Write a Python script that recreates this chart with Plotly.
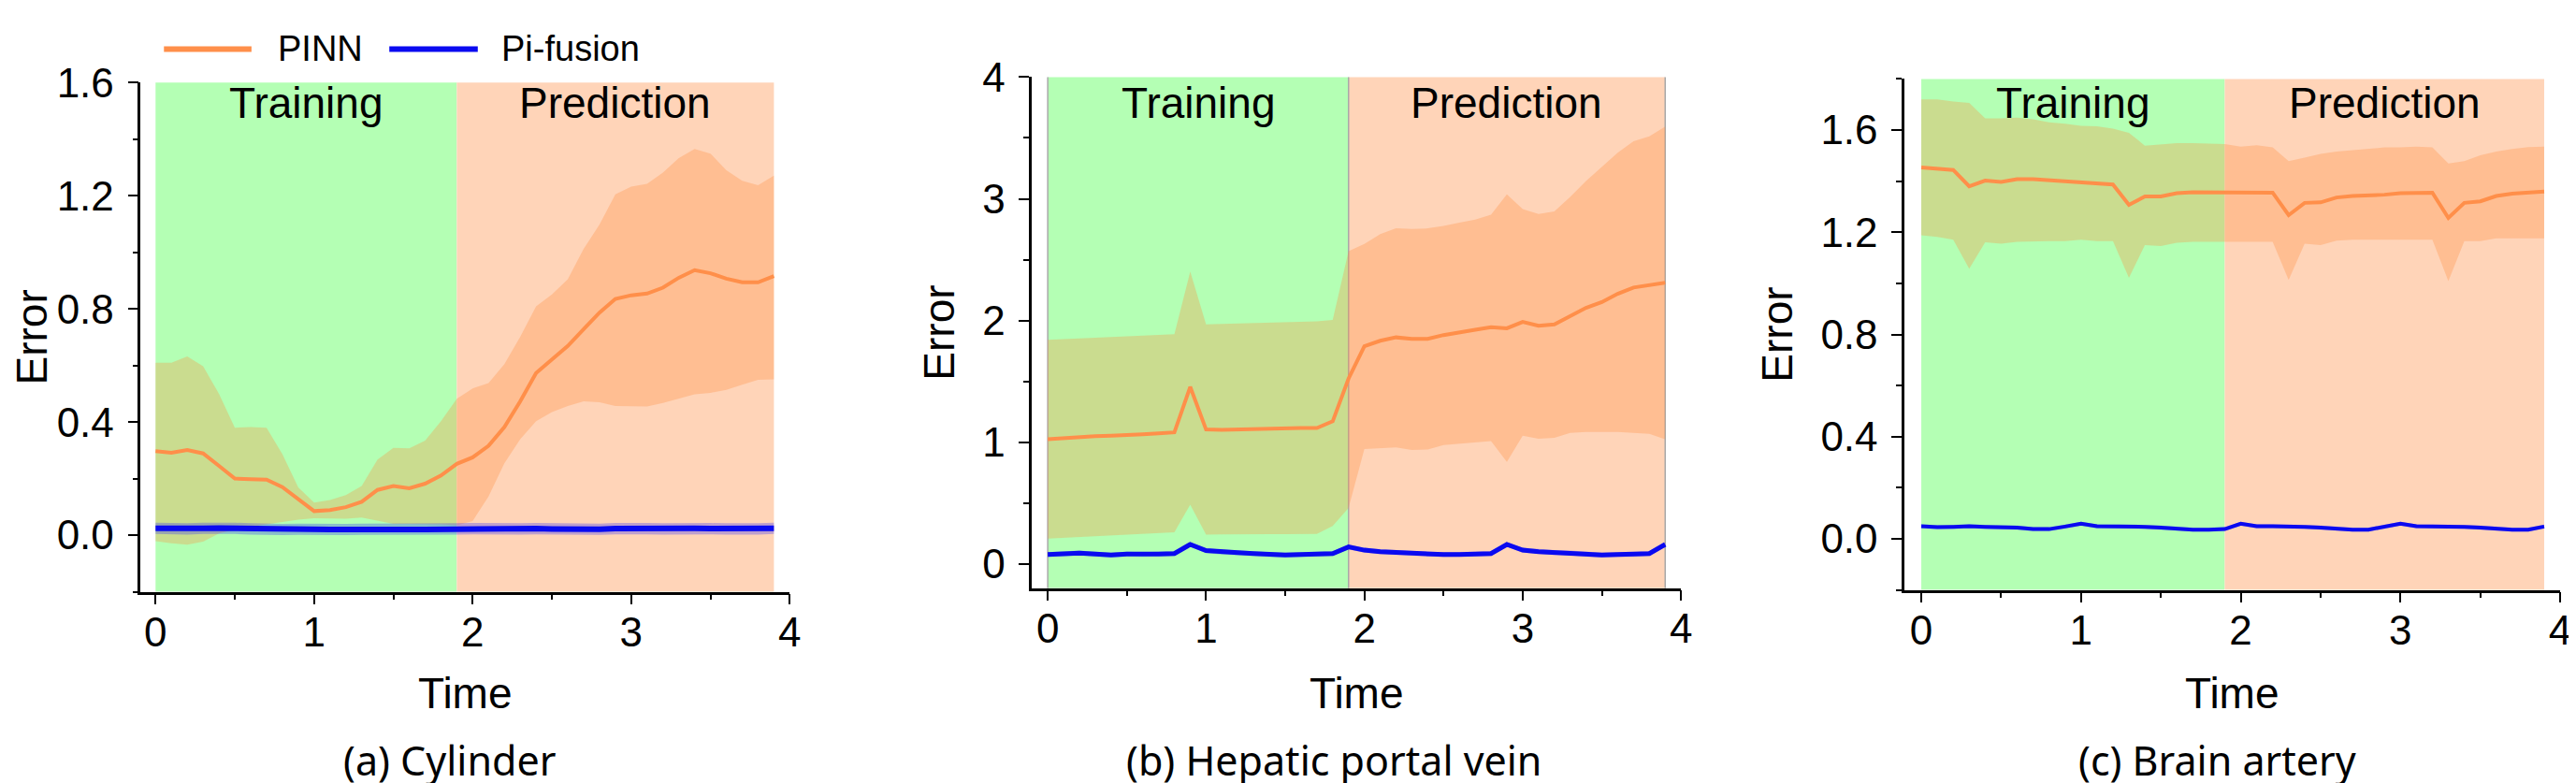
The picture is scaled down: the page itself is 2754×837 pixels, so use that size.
import plotly.graph_objects as go

# Time axis (every 0.1 up to 3.9)
TIME = [0.0, 0.1, 0.2, 0.3, 0.4, 0.5, 0.6, 0.7, 0.8, 0.9,
        1.0, 1.1, 1.2, 1.3, 1.4, 1.5, 1.6, 1.7, 1.8, 1.9,
        2.0, 2.1, 2.2, 2.3, 2.4, 2.5, 2.6, 2.7, 2.8, 2.9,
        3.0, 3.1, 3.2, 3.3, 3.4, 3.5, 3.6, 3.7, 3.8, 3.9]

TRAIN_SPAN = [0.0, 1.9]
PRED_SPAN = [1.9, 3.9]

# (a) Cylinder
CYL_PINN_MEAN = [0.297, 0.291, 0.301, 0.289, 0.245, 0.200, 0.198, 0.196, 0.170, 0.126,
                 0.085, 0.089, 0.099, 0.118, 0.160, 0.174, 0.166, 0.182, 0.211, 0.252,
                 0.275, 0.316, 0.382, 0.473, 0.573, 0.621, 0.669, 0.728, 0.787, 0.835,
                 0.848, 0.854, 0.875, 0.910, 0.937, 0.926, 0.907, 0.894, 0.894, 0.916]
CYL_PINN_HIGH = [0.610, 0.610, 0.632, 0.597, 0.500, 0.380, 0.382, 0.380, 0.286, 0.169,
                 0.115, 0.124, 0.142, 0.174, 0.267, 0.309, 0.307, 0.334, 0.403, 0.482,
                 0.519, 0.538, 0.605, 0.701, 0.809, 0.851, 0.905, 1.012, 1.098, 1.205,
                 1.232, 1.242, 1.282, 1.333, 1.365, 1.349, 1.290, 1.253, 1.237, 1.271]
CYL_PINN_LOW = [-0.021, -0.029, -0.034, -0.023, 0.006, 0.020, 0.030, 0.038, 0.045, 0.055,
                0.060, 0.060, 0.058, 0.062, 0.050, 0.040, 0.040, 0.040, 0.038, 0.035,
                0.050, 0.137, 0.254, 0.339, 0.403, 0.435, 0.457, 0.473, 0.470, 0.457,
                0.457, 0.455, 0.467, 0.482, 0.498, 0.503, 0.514, 0.532, 0.549, 0.551]
CYL_PIF_MEAN = [0.024, 0.023, 0.022, 0.024, 0.025, 0.024, 0.022, 0.020, 0.020, 0.021,
                0.020, 0.020, 0.020, 0.021, 0.021, 0.020, 0.020, 0.020, 0.021, 0.022,
                0.023, 0.022, 0.021, 0.022, 0.023, 0.022, 0.021, 0.020, 0.021, 0.023,
                0.024, 0.023, 0.022, 0.023, 0.024, 0.023, 0.022, 0.021, 0.022, 0.024]
CYL_PIF_HIGH = [0.044, 0.043, 0.042, 0.044, 0.045, 0.044, 0.042, 0.040, 0.040, 0.041,
                0.040, 0.040, 0.040, 0.041, 0.041, 0.040, 0.040, 0.040, 0.041, 0.042,
                0.043, 0.042, 0.041, 0.042, 0.043, 0.042, 0.041, 0.040, 0.041, 0.043,
                0.044, 0.043, 0.042, 0.043, 0.044, 0.043, 0.042, 0.041, 0.042, 0.044]
CYL_PIF_LOW = [0.004, 0.003, 0.002, 0.004, 0.005, 0.004, 0.002, 0.000, 0.000, 0.001,
               0.000, 0.000, 0.000, 0.001, 0.001, 0.000, 0.000, 0.000, 0.001, 0.002,
               0.003, 0.002, 0.001, 0.002, 0.003, 0.002, 0.001, 0.000, 0.001, 0.003,
               0.004, 0.003, 0.002, 0.003, 0.004, 0.003, 0.002, 0.001, 0.002, 0.004]

# (b) Hepatic portal vein
HPV_PINN_MEAN = [1.024, 1.032, 1.044, 1.048, 1.052, 1.056, 1.064, 1.072, 1.080, 1.454,
                 1.104, 1.100, 1.104, 1.108, 1.112, 1.112, 1.116, 1.116, 1.171, 1.522,
                 1.789, 1.833, 1.861, 1.849, 1.849, 1.880, 1.904, 1.924, 1.944, 1.936,
                 1.988, 1.956, 1.968, 2.040, 2.104, 2.151, 2.219, 2.271, 2.291, 2.311]
HPV_PINN_HIGH = [1.841, 1.846, 1.852, 1.858, 1.864, 1.870, 1.876, 1.882, 1.888, 2.402,
                 1.968, 1.972, 1.976, 1.980, 1.984, 1.986, 1.988, 1.992, 2.004, 2.570,
                 2.629, 2.709, 2.757, 2.753, 2.757, 2.777, 2.805, 2.829, 2.869, 3.036,
                 2.916, 2.876, 2.896, 3.016, 3.147, 3.259, 3.378, 3.474, 3.514, 3.594]
HPV_PINN_LOW = [0.207, 0.213, 0.219, 0.226, 0.232, 0.238, 0.245, 0.252, 0.259, 0.486,
                0.239, 0.241, 0.243, 0.243, 0.243, 0.243, 0.244, 0.245, 0.311, 0.458,
                0.944, 0.948, 0.956, 0.936, 0.940, 0.976, 0.988, 0.996, 1.008, 0.837,
                1.052, 1.028, 1.036, 1.076, 1.084, 1.084, 1.084, 1.076, 1.068, 1.024]
HPV_PIF_MEAN = [0.076, 0.080, 0.088, 0.080, 0.072, 0.080, 0.076, 0.080, 0.084, 0.159,
                0.108, 0.096, 0.092, 0.084, 0.076, 0.072, 0.076, 0.080, 0.084, 0.139,
                0.112, 0.100, 0.092, 0.088, 0.080, 0.076, 0.076, 0.080, 0.084, 0.159,
                0.112, 0.100, 0.092, 0.088, 0.080, 0.072, 0.076, 0.076, 0.084, 0.159]
HPV_PIF_HIGH = [0.096, 0.100, 0.108, 0.100, 0.092, 0.100, 0.096, 0.100, 0.104, 0.179,
                0.128, 0.116, 0.112, 0.104, 0.096, 0.092, 0.096, 0.100, 0.104, 0.159,
                0.132, 0.120, 0.112, 0.108, 0.100, 0.096, 0.096, 0.100, 0.104, 0.179,
                0.132, 0.120, 0.112, 0.108, 0.100, 0.092, 0.096, 0.096, 0.104, 0.179]
HPV_PIF_LOW = [0.056, 0.060, 0.068, 0.060, 0.052, 0.060, 0.056, 0.060, 0.064, 0.139,
               0.088, 0.076, 0.072, 0.064, 0.056, 0.052, 0.056, 0.060, 0.064, 0.119,
               0.092, 0.080, 0.072, 0.068, 0.060, 0.056, 0.056, 0.060, 0.064, 0.139,
               0.092, 0.080, 0.072, 0.068, 0.060, 0.052, 0.056, 0.056, 0.064, 0.139]

# (c) Brain artery
BA_PINN_MEAN = [1.454, 1.450, 1.444, 1.380, 1.402, 1.397, 1.408, 1.408, 1.404, 1.399,
                1.397, 1.393, 1.387, 1.307, 1.340, 1.340, 1.353, 1.357, 1.357, 1.355,
                1.357, 1.357, 1.355, 1.267, 1.315, 1.317, 1.336, 1.342, 1.343, 1.347,
                1.353, 1.355, 1.355, 1.256, 1.315, 1.321, 1.342, 1.351, 1.355, 1.359]
BA_PINN_HIGH = [1.720, 1.720, 1.712, 1.706, 1.646, 1.646, 1.649, 1.642, 1.630, 1.625,
                1.617, 1.615, 1.606, 1.589, 1.539, 1.543, 1.549, 1.549, 1.547, 1.545,
                1.535, 1.541, 1.532, 1.478, 1.492, 1.507, 1.516, 1.522, 1.526, 1.532,
                1.532, 1.535, 1.532, 1.469, 1.478, 1.501, 1.516, 1.526, 1.533, 1.535]
BA_PINN_LOW = [1.188, 1.182, 1.171, 1.057, 1.161, 1.155, 1.163, 1.165, 1.165, 1.165,
               1.171, 1.165, 1.165, 1.022, 1.150, 1.146, 1.159, 1.163, 1.163, 1.163,
               1.163, 1.163, 1.163, 1.013, 1.155, 1.150, 1.167, 1.171, 1.171, 1.171,
               1.171, 1.171, 1.171, 1.009, 1.165, 1.165, 1.176, 1.176, 1.176, 1.176]
BA_PIF_MEAN = [0.049, 0.046, 0.047, 0.049, 0.047, 0.046, 0.044, 0.038, 0.038, 0.048,
               0.059, 0.049, 0.049, 0.049, 0.047, 0.044, 0.040, 0.036, 0.036, 0.038,
               0.059, 0.049, 0.049, 0.049, 0.047, 0.044, 0.040, 0.036, 0.036, 0.048,
               0.059, 0.049, 0.049, 0.049, 0.047, 0.044, 0.040, 0.036, 0.036, 0.048]
BA_PIF_HIGH = [0.057, 0.054, 0.055, 0.057, 0.055, 0.054, 0.052, 0.046, 0.046, 0.056,
               0.067, 0.057, 0.057, 0.057, 0.055, 0.052, 0.048, 0.044, 0.044, 0.046,
               0.067, 0.057, 0.057, 0.057, 0.055, 0.052, 0.048, 0.044, 0.044, 0.056,
               0.067, 0.057, 0.057, 0.057, 0.055, 0.052, 0.048, 0.044, 0.044, 0.056]
BA_PIF_LOW = [0.041, 0.038, 0.039, 0.041, 0.039, 0.038, 0.036, 0.030, 0.030, 0.040,
              0.051, 0.041, 0.041, 0.041, 0.039, 0.036, 0.032, 0.028, 0.028, 0.030,
              0.051, 0.041, 0.041, 0.041, 0.039, 0.036, 0.032, 0.028, 0.028, 0.040,
              0.051, 0.041, 0.041, 0.041, 0.039, 0.036, 0.032, 0.028, 0.028, 0.040]

CAPTIONS = ['(a) Cylinder', '(b) Hepatic portal vein', '(c) Brain artery']

GREEN = '#B4FFB4'
SALMON = '#FFD4B8'
ORANGE = '#FF8F4A'
ORANGE_FILL = 'rgba(255,140,60,0.30)'
BLUE = '#0A0AF0'
BLUE_FILL = 'rgba(40,40,255,0.30)'

W, H = 2754, 837
ARIAL = 'Liberation Sans, Arial, sans-serif'
TICK_FONT = dict(family=ARIAL, size=44, color='black')
TITLE_FONT = dict(family=ARIAL, size=46, color='black')
CAPTION_FONT = dict(family='Noto Sans, Open Sans, sans-serif', size=43, color='black')

panels = [
    dict(pinn=(CYL_PINN_MEAN, CYL_PINN_LOW, CYL_PINN_HIGH),
         pif=(CYL_PIF_MEAN, CYL_PIF_LOW, CYL_PIF_HIGH),
         px=(143, 840), py=(57, 618), xrange=[-0.094, 4], yrange=[-0.2, 1.6],
         dtick=0.4, minor=0.2, tickformat='.1f', blue_w=6, edge=False, cap_x=475),
    dict(pinn=(HPV_PINN_MEAN, HPV_PINN_LOW, HPV_PINN_HIGH),
         pif=(HPV_PIF_MEAN, HPV_PIF_LOW, HPV_PIF_HIGH),
         px=(1100, 1797), py=(51, 614), xrange=[-0.1, 4], yrange=[-0.2, 4],
         dtick=1, minor=0.5, tickformat='d', blue_w=5, edge=True, cap_x=1424),
    dict(pinn=(BA_PINN_MEAN, BA_PINN_LOW, BA_PINN_HIGH),
         pif=(BA_PIF_MEAN, BA_PIF_LOW, BA_PIF_HIGH),
         px=(2037, 2741), py=(53, 616), xrange=[-0.105, 4], yrange=[-0.2, 1.8],
         dtick=0.4, minor=0.2, tickformat='.1f', blue_w=4, edge=False, cap_x=2373),
]

fig = go.Figure()
shapes = []
annotations = []

for i, p in enumerate(panels, start=1):
    sfx = '' if i == 1 else str(i)
    xa, ya = 'x' + sfx, 'y' + sfx

    # bands first, then lines on top
    for (mean, low, high), fill in ((p['pinn'], ORANGE_FILL), (p['pif'], BLUE_FILL)):
        fig.add_trace(go.Scatter(x=TIME, y=low, mode='lines', line=dict(width=0),
                                 hoverinfo='skip', showlegend=False, xaxis=xa, yaxis=ya))
        fig.add_trace(go.Scatter(x=TIME, y=high, mode='lines', line=dict(width=0),
                                 fill='tonexty', fillcolor=fill,
                                 hoverinfo='skip', showlegend=False, xaxis=xa, yaxis=ya))
    fig.add_trace(go.Scatter(x=TIME, y=p['pinn'][0], mode='lines', name='PINN',
                             line=dict(color=ORANGE, width=4), showlegend=False,
                             xaxis=xa, yaxis=ya))
    fig.add_trace(go.Scatter(x=TIME, y=p['pif'][0], mode='lines', name='Pi-fusion',
                             line=dict(color=BLUE, width=p['blue_w']), showlegend=False,
                             xaxis=xa, yaxis=ya))

    # training / prediction backgrounds
    for span, col in ((TRAIN_SPAN, GREEN), (PRED_SPAN, SALMON)):
        shapes.append(dict(type='rect', xref=xa, yref=ya + ' domain', x0=span[0], x1=span[1],
                           y0=0, y1=1, fillcolor=col, line=dict(width=0), layer='below'))
    if p['edge']:
        for xv in (TRAIN_SPAN[0], PRED_SPAN[0], PRED_SPAN[1]):
            shapes.append(dict(type='line', xref=xa, yref=ya + ' domain', x0=xv, x1=xv,
                               y0=0, y1=1, line=dict(color='#A8A8A8', width=1.5), layer='below'))

    for span, label in ((TRAIN_SPAN, 'Training'), (PRED_SPAN, 'Prediction')):
        annotations.append(dict(x=(span[0] + span[1]) / 2, xref=xa, y=1 - 79 / H, yref='paper',
                                text=label, showarrow=False, xanchor='center', yanchor='middle',
                                font=dict(family=ARIAL, size=46, color='black')))

    # x title placed by hand (plotly's title standoff is hard to pin to a pixel)
    annotations.append(dict(x=0.5, xref=xa + ' domain', y=1 - 730 / H, yref='paper',
                            text='Time', showarrow=False, xanchor='center', yanchor='middle',
                            font=TITLE_FONT))
    annotations.append(dict(x=p['cap_x'] / W, y=1 - 804 / H, xref='paper', yref='paper',
                            text=CAPTIONS[i - 1], showarrow=False, xanchor='center',
                            yanchor='middle', font=CAPTION_FONT))

    axis_common = dict(showline=True, linecolor='black', linewidth=2.5, ticks='outside',
                       ticklen=11, tickwidth=2, tickcolor='black', showgrid=False,
                       zeroline=False, tickfont=TICK_FONT, title_font=TITLE_FONT)
    minor_common = dict(ticks='outside', ticklen=6, tickwidth=2, tickcolor='black')
    fig.layout['xaxis' + sfx] = dict(
        axis_common, domain=[p['px'][0] / W, p['px'][1] / W], range=p['xrange'], anchor=ya,
        tick0=0, dtick=1, ticklabelstandoff=-8,
        minor=dict(minor_common, dtick=0.5))
    fig.layout['yaxis' + sfx] = dict(
        axis_common, domain=[1 - p['py'][1] / H, 1 - p['py'][0] / H], range=p['yrange'],
        anchor=xa, tick0=0, dtick=p['dtick'], tickformat=p['tickformat'], ticklabelstandoff=6,
        minor=dict(minor_common, dtick=p['minor']),
        title=dict(text='Error', standoff=16))

# legend drawn by hand so the line samples are as long as in the original
LEG_Y = 1 - 20 / H
for x0, x1, col, tx, label in ((168, 262, ORANGE, 288, 'PINN'), (410, 505, BLUE, 528, 'Pi-fusion')):
    shapes.append(dict(type='line', xref='paper', yref='paper', x0=x0 / W, x1=x1 / W,
                       y0=LEG_Y, y1=LEG_Y, line=dict(color=col, width=6)))
    annotations.append(dict(x=tx / W, y=LEG_Y, xref='paper', yref='paper', text=label,
                            showarrow=False, xanchor='left', yanchor='middle',
                            font=dict(family=ARIAL, size=38, color='black')))

fig.update_layout(
    width=W, height=H,
    margin=dict(l=0, r=0, t=0, b=0),
    paper_bgcolor='white', plot_bgcolor='white',
    shapes=shapes, annotations=annotations,
    showlegend=False,
)

fig.write_html('out.html')
